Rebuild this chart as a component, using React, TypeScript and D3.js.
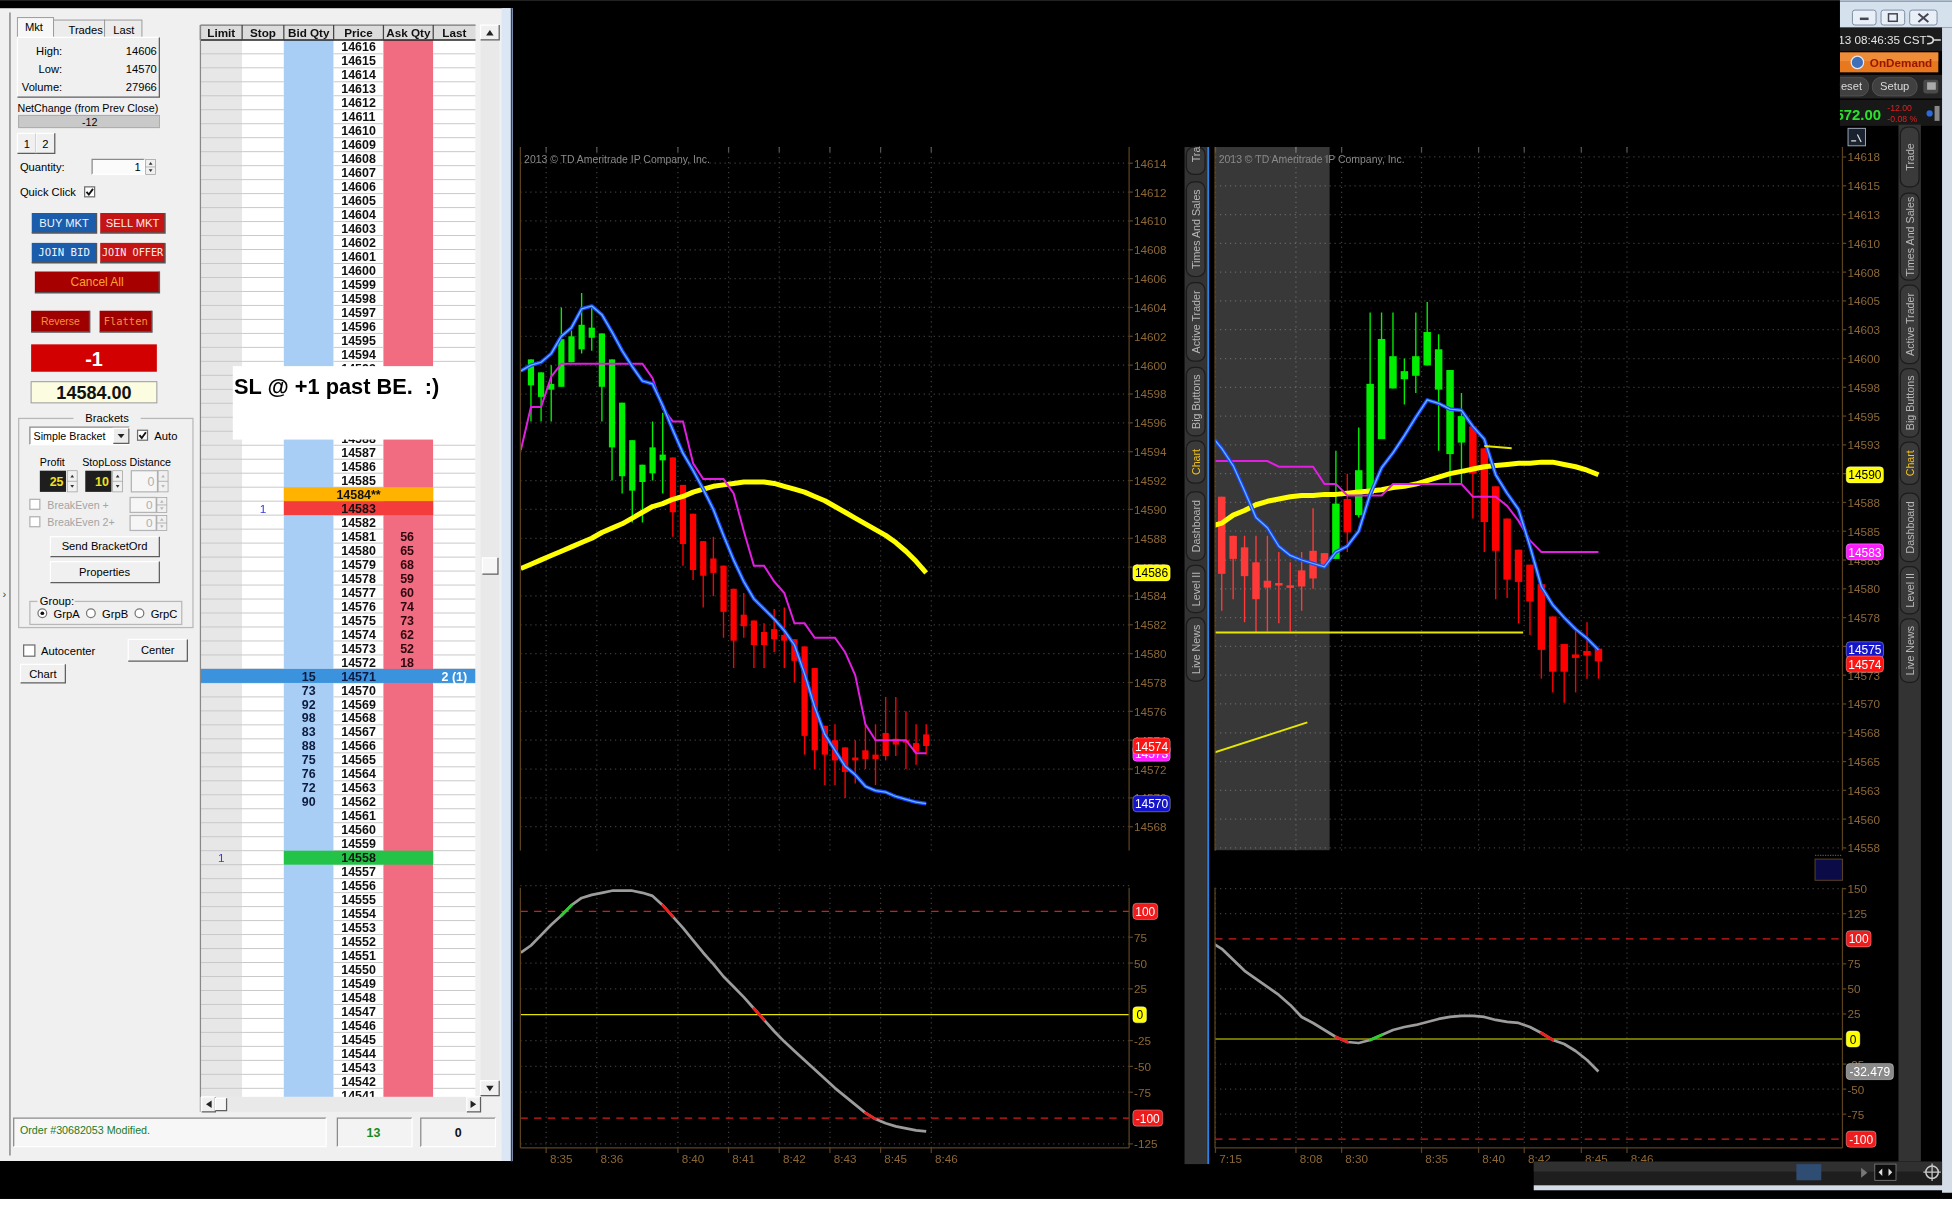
import React from 'react';
import * as d3 from 'd3';

// ---------------- Active Trader ladder ----------------
const ladderHigh = 14616;
const ladderLow = 14541;
const ladderColumns = ['Limit', 'Stop', 'Bid Qty', 'Price', 'Ask Qty', 'Last'];
const askPrices = [14581, 14580, 14579, 14578, 14577, 14576, 14575, 14574, 14573, 14572];
const askSizes = [56, 65, 68, 59, 60, 74, 73, 62, 52, 18];
const bidPrices = [14571, 14570, 14569, 14568, 14567, 14566, 14565, 14564, 14563, 14562];
const bidSizes = [15, 73, 92, 98, 83, 88, 75, 76, 72, 90];
const workingOrders = [
  { price: 14583, column: 1, qty: '1' },
  { price: 14558, column: 0, qty: '1' },
];
const markedRows = [
  { price: 14584, text: '14584**', fill: '#ffb300' },
  { price: 14583, text: '14583', fill: '#f43c3c' },
  { price: 14558, text: '14558', fill: '#22c346' },
];
const lastTradePrice = 14571;
const lastTradeText = '2 (1)';
const marketStats = [
  ['High:', '14606'],
  ['Low:', '14570'],
  ['Volume:', '27966'],
];

// ---------------- left chart (tick bars 1..40) ----------------
const leftOpen = [14598.6, 14597.8, 14598.3, 14598.5, 14600.2, 14601.1, 14601.9, 14598.5, 14594.3, 14592.3, 14591.3, 14591.9, 14592.5, 14593.4, 14593.6, 14591.7, 14589.7, 14587.8, 14586.6, 14586.1, 14584.5, 14582.7, 14582.3, 14581.5, 14581.7, 14581.3, 14581.0, 14580.5, 14579.0, 14575.0, 14574.0, 14573.5, 14572.8, 14573.3, 14573.0, 14574.5, 14574.1, 14574.0, 14573.8, 14574.4];
const leftHigh = [14600.4, 14599.5, 14600.0, 14604.0, 14602.4, 14605.0, 14604.0, 14602.2, 14600.4, 14597.4, 14594.8, 14593.1, 14596.1, 14596.7, 14593.6, 14591.7, 14589.7, 14587.8, 14588.1, 14586.1, 14584.5, 14584.2, 14582.3, 14582.1, 14583.1, 14583.2, 14581.0, 14580.5, 14579.0, 14575.0, 14575.1, 14573.5, 14574.0, 14575.1, 14575.1, 14577.0, 14577.0, 14576.0, 14575.1, 14575.1];
const leftLow = [14596.1, 14596.1, 14596.1, 14598.5, 14600.2, 14600.8, 14601.0, 14596.1, 14592.0, 14591.1, 14589.1, 14589.1, 14592.0, 14591.1, 14588.1, 14586.1, 14585.1, 14583.2, 14584.0, 14581.1, 14579.0, 14581.1, 14579.0, 14579.0, 14580.1, 14579.0, 14578.0, 14573.0, 14572.0, 14570.9, 14570.9, 14570.0, 14571.0, 14572.0, 14570.9, 14572.6, 14572.9, 14572.0, 14572.3, 14573.0];
const leftClose = [14600.4, 14599.5, 14598.7, 14601.8, 14602.0, 14602.8, 14602.6, 14602.2, 14600.4, 14597.4, 14594.8, 14593.1, 14594.3, 14593.8, 14589.8, 14587.6, 14585.8, 14585.4, 14585.6, 14582.9, 14580.9, 14581.9, 14580.6, 14580.6, 14581.0, 14580.9, 14579.5, 14574.3, 14573.3, 14573.0, 14572.6, 14571.8, 14572.6, 14572.7, 14572.7, 14572.9, 14573.7, 14573.9, 14573.2, 14573.6];
// study values for bars 0..40
const leftYellow = [14585.9, 14586.2, 14586.5, 14586.8, 14587.1, 14587.4, 14587.7, 14588.0, 14588.4, 14588.7, 14589.0, 14589.4, 14589.8, 14590.2, 14590.4, 14590.7, 14590.9, 14591.2, 14591.4, 14591.6, 14591.7, 14591.8, 14591.9, 14591.9, 14591.9, 14591.8, 14591.6, 14591.4, 14591.2, 14590.9, 14590.6, 14590.2, 14589.8, 14589.4, 14589.0, 14588.6, 14588.2, 14587.7, 14587.1, 14586.4, 14585.6];
const leftBlue = [14599.6, 14600.0, 14600.2, 14600.8, 14602.0, 14602.6, 14603.9, 14604.1, 14603.5, 14602.3, 14601.0, 14599.9, 14598.9, 14598.7, 14597.2, 14595.5, 14593.9, 14592.7, 14591.4, 14590.0, 14588.2, 14586.5, 14585.0, 14583.8, 14583.1, 14582.4, 14581.6, 14580.6, 14578.6, 14576.3, 14574.4, 14573.3, 14572.2, 14571.6, 14570.8, 14570.5, 14570.4, 14570.1, 14569.9, 14569.7, 14569.6];
const leftMagenta = [14594.1, 14597.1, 14597.1, 14599.2, 14600.1, 14600.1, 14600.1, 14600.1, 14600.1, 14600.1, 14600.1, 14600.1, 14600.1, 14599.1, 14597.0, 14596.1, 14596.1, 14593.2, 14592.1, 14592.1, 14592.1, 14591.1, 14588.5, 14586.1, 14586.1, 14585.0, 14584.2, 14582.1, 14582.1, 14581.1, 14581.1, 14581.1, 14580.1, 14578.5, 14575.1, 14574.0, 14574.0, 14574.0, 14574.0, 14573.1, 14573.1];
const leftOsc = [60, 67, 77, 87, 96, 106, 113, 116, 118, 120, 120, 120, 118, 115, 106, 95, 84, 72, 60, 49, 37, 27, 17, 6, -5, -16, -26, -35, -44, -53, -62, -71, -79, -87, -95, -101, -105, -108, -110, -112, -113];
const leftTimeBars = [2.5, 7.5, 15.5, 20.5, 25.5, 30.5, 35.5, 40.5];
const leftTimeLabels = ['8:35', '8:36', '8:40', '8:41', '8:42', '8:43', '8:45', '8:46'];

// ---------------- right chart (bars 1..34) ----------------
const rightOpen = [14588.0, 14584.6, 14583.6, 14582.3, 14580.7, 14580.5, 14580.3, 14581.6, 14583.3, 14583.1, 14582.6, 14587.8, 14586.4, 14588.2, 14593.0, 14597.4, 14598.2, 14598.5, 14599.4, 14597.3, 14591.7, 14592.7, 14594.1, 14592.2, 14588.9, 14586.1, 14583.4, 14582.1, 14580.4, 14577.6, 14575.2, 14574.3, 14574.6, 14574.8];
const rightHigh = [14588.0, 14584.6, 14584.6, 14584.6, 14584.6, 14583.2, 14582.3, 14583.2, 14587.0, 14583.1, 14592.0, 14590.0, 14594.0, 14604.0, 14604.0, 14604.0, 14600.0, 14604.0, 14604.9, 14602.1, 14599.0, 14597.0, 14594.1, 14592.2, 14588.9, 14586.1, 14583.4, 14582.1, 14580.4, 14577.6, 14575.2, 14576.7, 14577.1, 14574.8];
const rightLow = [14578.1, 14579.1, 14577.1, 14576.2, 14576.3, 14577.0, 14576.3, 14578.1, 14580.0, 14581.8, 14582.6, 14583.2, 14586.2, 14588.2, 14593.0, 14597.4, 14596.0, 14597.0, 14599.4, 14592.0, 14589.1, 14589.1, 14586.1, 14583.2, 14579.1, 14579.2, 14577.0, 14576.0, 14572.2, 14571.0, 14570.1, 14571.0, 14572.2, 14572.2];
const rightClose = [14581.3, 14582.6, 14581.1, 14579.1, 14580.1, 14580.3, 14580.1, 14580.2, 14580.9, 14582.0, 14587.4, 14584.9, 14590.3, 14597.8, 14601.7, 14600.2, 14598.9, 14600.2, 14602.3, 14600.8, 14599.0, 14595.0, 14590.0, 14585.8, 14583.3, 14580.8, 14580.6, 14578.9, 14574.7, 14572.8, 14572.8, 14574.0, 14574.2, 14573.7];
// study values for bars 0..34
const rightYellow = [14585.4, 14585.7, 14586.4, 14586.8, 14587.3, 14587.6, 14587.8, 14588.0, 14588.1, 14588.1, 14588.2, 14588.2, 14588.3, 14588.4, 14588.5, 14588.6, 14588.8, 14588.9, 14589.1, 14589.4, 14589.7, 14590.0, 14590.2, 14590.4, 14590.6, 14590.7, 14590.8, 14590.9, 14590.9, 14591.0, 14591.0, 14590.8, 14590.6, 14590.3, 14589.9];
const rightBlue = [14593.4, 14592.2, 14590.7, 14588.5, 14586.2, 14585.3, 14583.7, 14582.9, 14582.5, 14582.2, 14581.9, 14583.2, 14583.7, 14585.0, 14588.2, 14590.5, 14591.8, 14593.3, 14594.9, 14596.4, 14596.1, 14595.6, 14595.5, 14594.1, 14593.0, 14589.9, 14588.3, 14586.9, 14583.7, 14580.2, 14578.6, 14577.5, 14576.5, 14575.7, 14574.7];
const rightMagenta = [14591.1, 14591.1, 14591.1, 14591.1, 14591.1, 14591.1, 14590.6, 14590.6, 14590.6, 14590.6, 14589.1, 14589.1, 14588.1, 14588.1, 14588.1, 14588.1, 14589.1, 14589.1, 14589.1, 14589.1, 14589.1, 14589.1, 14589.1, 14588.0, 14588.0, 14588.0, 14587.2, 14585.9, 14584.2, 14583.2, 14583.2, 14583.2, 14583.2, 14583.2, 14583.2];
const rightOsc = [97, 90, 79, 68, 60, 52, 44, 34, 22, 16, 9, 2, -3, -4, -1, 4, 9, 12, 14, 17, 20, 22, 23, 23, 22, 19, 17, 16, 12, 6, -1, -5, -12, -21, -32.479];
const rightTimeBars = [0.45, 7.5, 11.5, 18.5, 23.5, 27.5, 32.5, 36.5];
const rightTimeLabels = ['7:15', '8:08', '8:30', '8:35', '8:40', '8:42', '8:45', '8:46'];
const rightShadeEnd = 10.45;
// trend lines drawn on the right chart: [bar1, price1, bar2, price2]
const rightDrawings = [
  [0.4, 14576.2, 27.4, 14576.2],
  [24, 14592.4, 26.4, 14592.2],
  [0.4, 14565.8, 8.5, 14568.4],
];

const tabNames = ['Times And Sales', 'Active Trader', 'Big Buttons', 'Chart', 'Dashboard', 'Level II', 'Live News'];

const FONT = "'Liberation Sans', Arial, sans-serif";
const AXIS_TXT = '#8c6836';
const AXIS_LINE = '#5c4320';
const GRID = '#3c3c3c';
const UP = '#00ee00';
const DOWN = '#ff0000';

type Pane = { x0: number; x1: number; y0: number; y1: number };

const Bevel = ({ x, y, w, h, fill, sunken = false }: any) => (
  <g>
    <rect x={x} y={y} width={w} height={h} fill={fill} />
    <path d={`M${x},${y + h} V${y} H${x + w}`} fill="none" stroke={sunken ? '#8a8a8a' : '#ffffff'} />
    <path d={`M${x},${y + h} H${x + w} V${y}`} fill="none" stroke={sunken ? '#ffffff' : '#5e5e5e'} />
  </g>
);

const Check = ({ x, y, s = 8, checked = false, disabled = false }: any) => (
  <g>
    <rect x={x} y={y} width={s} height={s} fill="#fff" stroke={disabled ? '#b0b0b0' : '#6e6e6e'} />
    {checked && (
      <path d={`M${x + 1.5},${y + s * 0.5} L${x + s * 0.42},${y + s - 1.8} L${x + s - 1.3},${y + 1.6}`} fill="none" stroke="#111" strokeWidth={1.5} />
    )}
  </g>
);

const Spinner = ({ x, y, h, disabled = false }: any) => {
  const c = disabled ? '#b8b8b8' : '#333';
  return (
    <g>
      <rect x={x} y={y} width={8} height={h} fill="#f0f0f0" stroke="#a0a0a0" strokeWidth={0.6} />
      <line x1={x} x2={x + 8} y1={y + h / 2} y2={y + h / 2} stroke="#a0a0a0" strokeWidth={0.6} />
      <path d={`M${x + 2.5},${y + h / 4 + 1.2} L${x + 4},${y + h / 4 - 1} L${x + 5.5},${y + h / 4 + 1.2}Z`} fill={c} />
      <path d={`M${x + 2.5},${y + (3 * h) / 4 - 1.2} L${x + 4},${y + (3 * h) / 4 + 1} L${x + 5.5},${y + (3 * h) / 4 - 1.2}Z`} fill={c} />
    </g>
  );
};

const ColorBtn = ({ x, y, w, h, fill, text, color, size = 9, mono = false }: any) => (
  <g>
    <rect x={x} y={y} width={w} height={h} fill={fill} />
    <path d={`M${x},${y + h} H${x + w} V${y}`} fill="none" stroke="#555" strokeWidth={1.2} />
    <text x={x + w / 2} y={y + h / 2} textAnchor="middle" dominantBaseline="central" fontSize={size} fill={color}
      fontFamily={mono ? "'DejaVu Sans Mono', monospace" : FONT}>{text}</text>
  </g>
);

const TabStrip = ({ x, top, bottom, first, firstRange, ranges }: any) => {
  const names = [first, ...tabNames];
  const spans = [firstRange, ...ranges];
  return (
    <g>
      <rect x={x} y={top} width={18} height={bottom - top} fill="#333333" />
      {names.map((n: string, i: number) => {
        const [a, b] = spans[i];
        const y0 = Math.max(a, top);
        return (
          <g key={n}>
            <rect x={x + 1.5} y={y0} width={15} height={b - y0} rx={6} fill="#3a3a3a" stroke="#1c1c1c" strokeWidth={1} />
            <text transform={`translate(${x + 9},${(a + b) / 2}) rotate(-90)`} textAnchor="middle" dominantBaseline="central"
              fontSize={8.6} fill={n === 'Chart' ? '#f2c21a' : '#b8b8b8'}>{n}</text>
          </g>
        );
      })}
    </g>
  );
};

function valueBox(key: string, x: number, y: number, text: string, fill: string, color: string, w = 30) {
  return (
    <g key={key}>
      <rect x={x} y={y - 6.5} width={w} height={13} rx={3} fill={fill} stroke="rgba(255,255,255,0.45)" strokeWidth={0.6} />
      <text x={x + w / 2} y={y + 0.5} textAnchor="middle" dominantBaseline="central" fontSize={9.6} fill={color}>{text}</text>
    </g>
  );
}

function Chart(props: any) {
  const { id, pane, oscPane, x, y, o, open, high, low, close, yellow, blue, magenta, osc, priceTicks, priceLabel,
    oscTicks, timeBars, timeLabels, bodyW, shadeEnd, drawings, oscValue, spread } = props;
  const P: Pane = pane;
  const Q: Pane = oscPane;
  const line = d3.line<number>().x((_, i) => x(i)).y((v) => y(v));
  const oline = d3.line<number>().x((_, i) => x(i)).y((v) => o(v));
  const levels = [100, 0, -100];
  const segs: any[] = [];
  for (let i = 1; i < osc.length; i++) {
    const a = osc[i - 1];
    const b = osc[i];
    let c = '';
    levels.forEach((l) => {
      if (a < l && b >= l) c = '#2ad02a';
      if (a > l && b <= l) c = '#ee2020';
    });
    if (c) segs.push(<line key={i} x1={x(i - 1)} y1={o(a)} x2={x(i)} y2={o(b)} stroke={c} strokeWidth={2.2} strokeLinecap="round" />);
  }
  const lx = P.x1 + 3;
  // last-value markers on the price axis
  const marks = [
    { k: 'vy', v: yellow[yellow.length - 1], fill: '#ffff00', color: '#000' },
    { k: 'vm', v: magenta[magenta.length - 1], fill: '#ff1aff', color: '#fff' },
    { k: 'vb', v: blue[blue.length - 1], fill: '#1414c8', color: '#fff' },
    { k: 'vc', v: close[close.length - 1], fill: '#ff1414', color: '#fff' },
  ].map((m) => ({ ...m, y: y(m.v) }));
  if (spread) {
    const sorted = [...marks].sort((a, b) => a.y - b.y);
    for (let i = 1; i < sorted.length; i++) {
      if (sorted[i].y - sorted[i - 1].y < 11.5) sorted[i].y = sorted[i - 1].y + 11.5;
    }
  }
  return (
    <g fontFamily={FONT}>
      <defs>
        <clipPath id={`${id}-p`}><rect x={P.x0} y={P.y0} width={P.x1 - P.x0} height={P.y1 - P.y0} /></clipPath>
        <clipPath id={`${id}-o`}><rect x={Q.x0} y={Q.y0} width={Q.x1 - Q.x0} height={Q.y1 - Q.y0} /></clipPath>
      </defs>
      {/* price pane grid */}
      {priceTicks.map((t: number) => (
        <line key={`g${t}`} x1={P.x0} x2={P.x1} y1={y(t)} y2={y(t)} stroke={GRID} strokeDasharray="1,3" />
      ))}
      {timeBars.map((b: number) => (
        <g key={`v${b}`}>
          <line x1={x(b)} x2={x(b)} y1={P.y0} y2={P.y1} stroke={GRID} strokeDasharray="1,3" />
          <line x1={x(b)} x2={x(b)} y1={Q.y0} y2={Q.y1} stroke={GRID} strokeDasharray="1,3" />
          <line x1={x(b)} x2={x(b)} y1={P.y0} y2={P.y0 + 4} stroke="#555" />
          <line x1={x(b)} x2={x(b)} y1={Q.y1} y2={Q.y1 + 4} stroke={AXIS_LINE} />
        </g>
      ))}
      <g clipPath={`url(#${id}-p)`}>
        {open.map((op: number, i: number) => {
          const c = close[i];
          const col = c >= op ? UP : DOWN;
          const cx = x(i + 1);
          const t = y(Math.max(op, c));
          const bt = y(Math.min(op, c));
          return (
            <g key={i}>
              <line x1={cx} x2={cx} y1={y(high[i])} y2={y(low[i])} stroke={col} strokeWidth={1.1} />
              <rect x={cx - bodyW / 2} y={t} width={bodyW} height={Math.max(2, bt - t)} fill={col} />
            </g>
          );
        })}
        {shadeEnd !== undefined && (
          <rect x={P.x0} y={P.y0} width={x(shadeEnd) - P.x0} height={P.y1 - P.y0} fill="#ffffff" opacity={0.22} />
        )}
        <path d={line(yellow) as string} fill="none" stroke="#ffff00" strokeWidth={4} strokeLinejoin="round" />
        <path d={line(magenta) as string} fill="none" stroke="#e11ee1" strokeWidth={1.6} />
        <path d={line(blue) as string} fill="none" stroke="#1648ff" strokeWidth={3} strokeLinejoin="round" />
        <path d={line(blue) as string} fill="none" stroke="#6cb6ff" strokeWidth={1} strokeLinejoin="round" />
        {drawings && drawings.map((d: number[], i: number) => (
          <line key={`d${i}`} x1={x(d[0])} y1={y(d[1])} x2={x(d[2])} y2={y(d[3])} stroke="#e6e600" strokeWidth={1.6} />
        ))}
      </g>
      <text x={P.x0 + 3} y={P.y0 + 13} fontSize={8.4} fill="#8a8a8a">2013 © TD Ameritrade IP Company, Inc.</text>
      {/* price axis */}
      <line x1={P.x0} x2={P.x0} y1={P.y0} y2={P.y1} stroke={AXIS_LINE} />
      <line x1={P.x1} x2={P.x1} y1={P.y0} y2={P.y1} stroke={AXIS_LINE} />
      {priceTicks.map((t: number) => (
        <g key={`t${t}`}>
          <line x1={P.x1} x2={P.x1 + 3} y1={y(t)} y2={y(t)} stroke={AXIS_LINE} />
          <text x={lx + 1} y={y(t)} dominantBaseline="central" fontSize={9.4} fill={AXIS_TXT}>{priceLabel(t)}</text>
        </g>
      ))}
      {marks.map((m) => valueBox(m.k, lx, m.y, `${Math.round(m.v)}`, m.fill, m.color))}
      {/* oscillator pane */}
      {oscTicks.filter((t: number) => t % 100 !== 0).map((t: number) => (
        <line key={`og${t}`} x1={Q.x0} x2={Q.x1} y1={o(t)} y2={o(t)} stroke={GRID} strokeDasharray="1,3" />
      ))}
      <line x1={Q.x0} x2={Q.x1} y1={o(100)} y2={o(100)} stroke="#d41c1c" strokeDasharray="6,5" />
      <line x1={Q.x0} x2={Q.x1} y1={o(-100)} y2={o(-100)} stroke="#d41c1c" strokeDasharray="6,5" />
      <line x1={Q.x0} x2={Q.x1} y1={o(0)} y2={o(0)} stroke="#e4e400" strokeWidth={1} />
      <g clipPath={`url(#${id}-o)`}>
        <path d={oline(osc) as string} fill="none" stroke="#9c9c9c" strokeWidth={2.2} strokeLinejoin="round" />
        {segs}
      </g>
      <line x1={Q.x0} x2={Q.x0} y1={Q.y0} y2={Q.y1} stroke={AXIS_LINE} />
      <line x1={Q.x1} x2={Q.x1} y1={Q.y0} y2={Q.y1} stroke={AXIS_LINE} />
      <line x1={Q.x0} x2={Q.x1} y1={Q.y1} y2={Q.y1} stroke={AXIS_LINE} />
      {oscTicks.filter((t: number) => t % 100 !== 0 && o(t) > Q.y0).map((t: number) => (
        <g key={`ot${t}`}>
          <line x1={Q.x1} x2={Q.x1 + 3} y1={o(t)} y2={o(t)} stroke={AXIS_LINE} />
          <text x={lx + 1} y={o(t)} dominantBaseline="central" fontSize={9.4} fill={AXIS_TXT}>{t}</text>
        </g>
      ))}
      {valueBox('o100', lx, o(100), '100', '#ee1c1c', '#fff', 20)}
      {valueBox('o0', lx, o(0), '0', '#ffff00', '#000', 11)}
      {valueBox('om100', lx, o(-100), '-100', '#ee1c1c', '#fff', 24)}
      {oscValue && valueBox('ov', lx, o(osc[osc.length - 1]), `${osc[osc.length - 1]}`, '#8a8a8a', '#fff', 38)}
      {/* time axis */}
      {timeBars.map((b: number, i: number) => (
        <text key={`tl${i}`} x={x(b) + 3} y={934} fontSize={9.4} fill={AXIS_TXT}>{timeLabels[i]}</text>
      ))}
    </g>
  );
}

export default function App() {
  const W = 1568;
  const H = 983;

  // ladder geometry
  const colX = [161, 194.5, 228, 268, 308, 348, 382];
  const colFill = ['#e7e7e7', '#ffffff', '#a8cef6', '#ffffff', '#f16c80', '#ffffff'];
  const rowH = 11.23;
  const yRow = d3.scaleLinear().domain([ladderHigh, ladderLow]).range([37.5, 37.5 + 75 * rowH]);
  const ladderPrices = d3.range(ladderHigh, ladderLow - 1, -1);
  const note = { x: 187, y: 294, w: 195, h: 59 };
  const hiddenByNote = (p: number) => yRow(p) - rowH / 2 >= note.y && yRow(p) + rowH / 2 <= note.y + note.h;

  // charts
  const xL = d3.scaleLinear().domain([1, 40]).range([426.5, 744]);
  const yL = d3.scaleLinear().domain([14614, 14568]).range([131, 664]);
  const oL = d3.scaleLinear().domain([100, -100]).range([732, 898]);
  const xR = d3.scaleLinear().domain([1, 34]).range([981.4, 1284]);
  const yR = d3.scaleLinear().domain([14617.5, 14557.5]).range([126, 681]);
  const oR = d3.scaleLinear().domain([100, -100]).range([754, 915]);

  const leftTicks = d3.range(14614, 14567, -2);
  const rightTicks = d3.range(14617.5, 14557, -2.5);
  const leftOscTicks = d3.range(125, -126, -25);
  const rightOscTicks = d3.range(150, -101, -25);

  return (
    <div style={{ position: 'fixed', left: 0, top: 0 }}>
      <svg width={1952} height={1224} viewBox={`0 0 ${W} ${H}`} style={{ display: 'block' }} fontFamily={FONT}>
        <rect x={0} y={0} width={W} height={H} fill="#ffffff" />
        <rect x={0} y={0} width={W} height={963} fill="#000000" />

        {/* ================= Active Trader window ================= */}
        <rect x={0} y={6.5} width={412} height={926} fill="#f0f0f0" />
        <line x1={8} x2={8} y1={10} y2={928} stroke="#8a8a8a" strokeWidth={1.2} />
        <text x={2} y={480} fontSize={9} fill="#444">›</text>
        <rect x={403} y={6.5} width={7} height={926} fill="#dbe7f4" />
        <line x1={411} x2={411} y1={6.5} y2={933} stroke="#23457c" strokeWidth={1.4} />

        {/* tabs + stats */}
        <rect x={14} y={14} width={29} height={17} fill="#f7f7f7" stroke="#9c9c9c" strokeWidth={0.8} />
        <rect x={43} y={16} width={41} height={15} fill="#ececec" stroke="#9c9c9c" strokeWidth={0.8} />
        <rect x={84} y={16} width={30} height={15} fill="#ececec" stroke="#9c9c9c" strokeWidth={0.8} />
        <text x={20} y={25} fontSize={9}>Mkt</text>
        <text x={55} y={27} fontSize={9}>Trades</text>
        <text x={91} y={27} fontSize={9}>Last</text>
        <Bevel x={14} y={30} w={114} h={48} fill="#f0f0f0" />
        {marketStats.map((s, i) => (
          <g key={s[0]} fontSize={9}>
            <text x={50} y={44 + i * 14.5} textAnchor="end">{s[0]}</text>
            <text x={126} y={44 + i * 14.5} textAnchor="end">{s[1]}</text>
          </g>
        ))}
        <text x={14} y={90} fontSize={8.6}>NetChange (from Prev Close)</text>
        <rect x={15} y={92.5} width={113} height={10} fill="#c9c9c9" stroke="#9a9a9a" strokeWidth={0.6} />
        <text x={72} y={101} textAnchor="middle" fontSize={8.6}>-12</text>
        <Bevel x={14} y={107} w={15} h={16} fill="#f0f0f0" />
        <Bevel x={29} y={107} w={15} h={16} fill="#f0f0f0" />
        <text x={21.5} y={118.5} textAnchor="middle" fontSize={9}>1</text>
        <text x={36.5} y={118.5} textAnchor="middle" fontSize={9}>2</text>
        <text x={16} y={137.5} fontSize={9}>Quantity:</text>
        <Bevel x={74} y={128} w={42} h={12} fill="#fbfbfb" sunken />
        <text x={113} y={137.5} textAnchor="end" fontSize={9}>1</text>
        <Spinner x={117} y={128} h={12} />
        <text x={16} y={157} fontSize={9}>Quick Click</text>
        <Check x={68} y={150} checked />

        <ColorBtn x={25.5} y={171} w={52} h={16} fill="#1b5cab" text="BUY MKT" color="#eef4ff" />
        <ColorBtn x={80.5} y={171} w={52} h={16} fill="#c41414" text="SELL MKT" color="#ffeaea" />
        <ColorBtn x={25.5} y={195} w={52} h={16} fill="#1b5cab" text="JOIN BID" color="#eef4ff" size={8.6} mono />
        <ColorBtn x={80.5} y={195} w={52} h={16} fill="#c41414" text="JOIN OFFER" color="#ffeaea" size={8.2} mono />
        <ColorBtn x={28} y={218} w={100} h={17} fill="#a60000" text="Cancel All" color="#ffa030" size={9.6} />
        <ColorBtn x={25} y={249.5} w={47} h={17} fill="#9e0000" text="Reverse" color="#ff8d3a" size={8.4} />
        <ColorBtn x={80} y={249.5} w={42} h={17} fill="#9e0000" text="Flatten" color="#ff8d3a" size={8.4} mono />
        <rect x={25} y={276.5} width={101} height={22} fill="#d20000" />
        <text x={75.5} y={288} textAnchor="middle" dominantBaseline="central" fontSize={16} fontWeight="bold" fill="#fff">-1</text>
        <rect x={25} y={306.5} width={101} height={17} fill="#fcfce0" stroke="#9a9a9a" strokeWidth={0.8} />
        <text x={75.5} y={315.5} textAnchor="middle" dominantBaseline="central" fontSize={14.5} fontWeight="bold" fill="#111">14584.00</text>

        {/* brackets group */}
        <rect x={15} y={336} width={140} height={168} fill="none" stroke="#b8b8b8" />
        <rect x={59} y={330} width={54} height={10} fill="#f0f0f0" />
        <text x={86} y={338.5} textAnchor="middle" fontSize={9}>Brackets</text>
        <Bevel x={24} y={343} w={80} h={14} fill="#ffffff" sunken />
        <text x={27} y={353.5} fontSize={8.6}>Simple Bracket</text>
        <Bevel x={91} y={344} w={12.5} h={12} fill="#ececec" />
        <path d="M94.5,348.5 L97.3,352 L100,348.5Z" fill="#222" />
        <Check x={110.5} y={345.5} checked />
        <text x={124} y={353.5} fontSize={9}>Auto</text>
        <text x={32} y={374} fontSize={8.6}>Profit</text>
        <text x={66} y={374} fontSize={8.6}>StopLoss</text>
        <text x={104} y={374} fontSize={8.6}>Distance</text>
        <rect x={32} y={378} width={21} height={17} fill="#1e1e1e" />
        <text x={51} y={390.5} textAnchor="end" fontSize={10} fontWeight="bold" fill="#f0e020">25</text>
        <Spinner x={54} y={378} h={17} />
        <rect x={68.5} y={378} width={21} height={17} fill="#1e1e1e" />
        <text x={87.5} y={390.5} textAnchor="end" fontSize={10} fontWeight="bold" fill="#f0e020">10</text>
        <Spinner x={90.5} y={378} h={17} />
        <rect x={105.5} y={378} width={21} height={17} fill="#f6f6f6" stroke="#b4b4b4" />
        <text x={124} y={390.5} textAnchor="end" fontSize={10} fill="#b0b0b0">0</text>
        <Spinner x={127} y={378} h={17} disabled />
        <Check x={24} y={401} disabled />
        <text x={38} y={408.5} fontSize={8.6} fill="#a4a4a4">BreakEven +</text>
        <rect x={104.5} y={399.5} width={21} height={12} fill="#f6f6f6" stroke="#b4b4b4" />
        <text x={122.5} y={409} textAnchor="end" fontSize={9.5} fill="#b0b0b0">0</text>
        <Spinner x={126} y={399.5} h={12} disabled />
        <Check x={24} y={415} disabled />
        <text x={38} y={422.5} fontSize={8.6} fill="#a4a4a4">BreakEven 2+</text>
        <rect x={104.5} y={414} width={21} height={12} fill="#f6f6f6" stroke="#b4b4b4" />
        <text x={122.5} y={423.5} textAnchor="end" fontSize={9.5} fill="#b0b0b0">0</text>
        <Spinner x={126} y={414} h={12} disabled />
        <Bevel x={40.5} y={431} w={87.5} h={16} fill="#f0f0f0" />
        <text x={84} y={442} textAnchor="middle" fontSize={9}>Send BracketOrd</text>
        <Bevel x={40.5} y={451} w={87.5} h={17} fill="#f0f0f0" />
        <text x={84} y={462.5} textAnchor="middle" fontSize={9}>Properties</text>
        <rect x={24} y={483} width={122} height={18.5} fill="none" stroke="#b8b8b8" />
        <rect x={30} y={478} width={30} height={9} fill="#f0f0f0" />
        <text x={32} y={486} fontSize={9}>Group:</text>
        {['GrpA', 'GrpB', 'GrpC'].map((g, i) => (
          <g key={g}>
            <circle cx={34 + i * 39} cy={492.5} r={3.5} fill="#fff" stroke="#777" />
            {i === 0 && <circle cx={34} cy={492.5} r={1.5} fill="#111" />}
            <text x={43 + i * 39} y={496} fontSize={9}>{g}</text>
          </g>
        ))}
        <Check x={19} y={518} s={9} />
        <text x={33} y={526} fontSize={9}>Autocenter</text>
        <Bevel x={103} y={513.5} w={47.5} h={17.5} fill="#f0f0f0" />
        <text x={126.7} y={525} textAnchor="middle" fontSize={9}>Center</text>
        <Bevel x={16.5} y={533.5} w={36} h={15} fill="#f0f0f0" />
        <text x={34.5} y={544.5} textAnchor="middle" fontSize={9}>Chart</text>

        {/* status bar */}
        <Bevel x={11} y={898} w={251} h={23} fill="#f7f7f7" sunken />
        <text x={16} y={911} fontSize={8.6} fill="#1c7a1c">Order #30682053 Modified.</text>
        <Bevel x={271} y={898} w={60} h={23} fill="#f3f3f3" sunken />
        <text x={300} y={913} textAnchor="middle" fontSize={10} fontWeight="bold" fill="#1a8a1a">13</text>
        <Bevel x={338} y={898} w={60} h={23} fill="#f3f3f3" sunken />
        <text x={368} y={913} textAnchor="middle" fontSize={10} fontWeight="bold" fill="#111">0</text>

        {/* ladder */}
        <defs>
          <clipPath id="ladder"><rect x={161} y={32} width={221} height={849} /></clipPath>
        </defs>
        <g clipPath="url(#ladder)">
          {colFill.map((f, i) => (
            <rect key={i} x={colX[i]} y={32} width={colX[i + 1] - colX[i]} height={849} fill={f} />
          ))}
          {ladderPrices.map((p) => (
            <g key={p}>
              {[0, 1, 3, 5].map((c) => (
                <line key={c} x1={colX[c]} x2={colX[c + 1]} y1={yRow(p) + rowH / 2} y2={yRow(p) + rowH / 2} stroke="#c9c9c9" strokeWidth={0.8} />
              ))}
            </g>
          ))}
          <rect x={colX[0]} y={yRow(lastTradePrice) - rowH / 2} width={colX[6] - colX[0]} height={rowH} fill="#3a93dc" />
          {markedRows.map((r) => (
            <rect key={r.price} x={colX[2]} y={yRow(r.price) - rowH / 2} width={colX[5] - colX[2]} height={rowH} fill={r.fill} />
          ))}
          <g fontSize={10} fontWeight="bold" textAnchor="middle" dominantBaseline="central">
            {ladderPrices.filter((p) => !hiddenByNote(p)).map((p) => {
              const m = markedRows.find((r) => r.price === p);
              return (
                <text key={p} x={288} y={yRow(p) + 0.5} fill={p === lastTradePrice ? '#0b1a44' : '#111'}>{m ? m.text : p}</text>
              );
            })}
            {askPrices.map((p, i) => (
              <text key={`a${p}`} x={327} y={yRow(p) + 0.5} fill="#2a0a10">{askSizes[i]}</text>
            ))}
            {bidPrices.map((p, i) => (
              <text key={`b${p}`} x={248} y={yRow(p) + 0.5} fill="#0d1a3c">{bidSizes[i]}</text>
            ))}
            <text x={365} y={yRow(lastTradePrice) + 0.5} fill="#fff">{lastTradeText}</text>
          </g>
          {workingOrders.map((w) => (
            <text key={w.price} x={(colX[w.column] + colX[w.column + 1]) / 2} y={yRow(w.price) + 0.5} textAnchor="middle"
              dominantBaseline="central" fontSize={9.5} fill="#3a3ae0">{w.qty}</text>
          ))}
        </g>
        <rect x={161} y={20} width={221} height={12} fill="#dcdcdc" />
        <line x1={161} x2={382} y1={20} y2={20} stroke="#777" />
        <line x1={161} x2={382} y1={32} y2={32} stroke="#222" strokeWidth={1.2} />
        {ladderColumns.map((c, i) => (
          <g key={c}>
            <line x1={colX[i]} x2={colX[i]} y1={20} y2={32} stroke="#444" />
            <text x={(colX[i] + colX[i + 1]) / 2} y={29.5} textAnchor="middle" fontSize={9.4} fontWeight="bold" fill="#111">{c}</text>
          </g>
        ))}
        <line x1={161} x2={161} y1={20} y2={893} stroke="#888" />
        {/* scrollbars */}
        <rect x={386} y={20} width={15} height={861} fill="#e9e9e9" />
        <Bevel x={386} y={20} w={15} h={12} fill="#f0f0f0" />
        <path d="M390.5,28.5 L393.5,24 L396.5,28.5Z" fill="#222" />
        <Bevel x={386} y={868} w={15} h={12} fill="#f0f0f0" />
        <path d="M390.5,872 L393.5,876.5 L396.5,872Z" fill="#222" />
        <Bevel x={387.5} y={448} w={12.5} h={13} fill="#f6f6f6" />
        <rect x={161} y={881} width={225} height={12} fill="#e9e9e9" />
        <Bevel x={162} y={881} w={11} h={12} fill="#f0f0f0" />
        <path d="M170,884 L165.5,887 L170,890Z" fill="#222" />
        <Bevel x={375} y={881} w={11} h={12} fill="#f0f0f0" />
        <path d="M378,884 L382.5,887 L378,890Z" fill="#222" />
        <Bevel x={173} y={882} w={9} h={10} fill="#f6f6f6" />

        {/* annotation */}
        <rect x={note.x} y={note.y} width={note.w} height={note.h} fill="#ffffff" />
        <text x={188} y={316} fontSize={17.5} fontWeight="bold" fill="#000">SL @ +1 past BE.{'\u00a0'} :)</text>

        {/* ================= left chart ================= */}
        <Chart id="L" pane={{ x0: 418, x1: 907, y0: 118, y1: 683 }} oscPane={{ x0: 418, x1: 907, y0: 713, y1: 922 }}
          x={xL} y={yL} o={oL} open={leftOpen} high={leftHigh} low={leftLow} close={leftClose}
          yellow={leftYellow} blue={leftBlue} magenta={leftMagenta} osc={leftOsc}
          priceTicks={leftTicks} priceLabel={(t: number) => `${t}`} oscTicks={leftOscTicks}
          timeBars={leftTimeBars} timeLabels={leftTimeLabels} bodyW={5} />

        {/* ================= right chart ================= */}
        <TabStrip x={951.5} top={118} bottom={935} first="Tra" firstRange={[108, 140]}
          ranges={[[146, 222], [227, 290], [295, 350], [354, 388], [395, 450], [454, 492], [496, 547]]} />
        <line x1={970.5} x2={970.5} y1={118} y2={935} stroke="#2a82e4" strokeWidth={1.6} />
        <Chart id="R" pane={{ x0: 976, x1: 1480, y0: 118, y1: 683 }} oscPane={{ x0: 976, x1: 1480, y0: 713, y1: 922 }}
          x={xR} y={yR} o={oR} open={rightOpen} high={rightHigh} low={rightLow} close={rightClose}
          yellow={rightYellow} blue={rightBlue} magenta={rightMagenta} osc={rightOsc}
          priceTicks={rightTicks} priceLabel={(t: number) => `${Math.round(t)}`} oscTicks={rightOscTicks}
          timeBars={rightTimeBars} timeLabels={rightTimeLabels} bodyW={6} shadeEnd={rightShadeEnd}
          drawings={rightDrawings} oscValue spread />
        <rect x={1458} y={690} width={22} height={17} fill="#0b0b48" stroke={AXIS_LINE} strokeWidth={0.8} />
        <line x1={1458} x2={1480} y1={687} y2={687} stroke="#555" strokeDasharray="1,1" />

        {/* ================= main window chrome (right) ================= */}
        <rect x={1478} y={0} width={90} height={22} fill="#d6e1ee" />
        <line x1={1478} x2={1568} y1={1} y2={1} stroke="#8da2bb" />
        {[[1488, 19], [1511, 19], [1534, 22]].map(([bx, bw], i) => (
          <g key={i}>
            <rect x={bx} y={8} width={bw} height={12} rx={2} fill="#e9eff7" stroke="#7d8da3" strokeWidth={0.8} />
            {i === 0 && <rect x={bx + 6} y={14} width={7} height={2} fill="#445" />}
            {i === 1 && <rect x={bx + 6} y={11} width={7} height={6} fill="none" stroke="#445" strokeWidth={1.2} />}
            {i === 2 && <path d={`M${bx + 7},${11} L${bx + 15},${17.5} M${bx + 15},${11} L${bx + 7},${17.5}`} stroke="#445" strokeWidth={1.6} />}
          </g>
        ))}
        <rect x={1560} y={22} width={8} height={936} fill="#d3dce7" />
        <defs>
          <clipPath id="chrome"><rect x={1478} y={22} width={82} height={90} /></clipPath>
        </defs>
        <g clipPath="url(#chrome)">
          <rect x={1478} y={22} width={82} height={19} fill="#1c1c1c" />
          <text x={1474} y={35} fontSize={9.4} fill="#e4e4e4">/13 08:46:35 CST</text>
          <path d="M1548,29 q5,0 5,3 q0,3 -5,3 M1553,32 h6" fill="none" stroke="#ddd" strokeWidth={1.3} />
          <rect x={1478} y={42} width={79} height={16} fill="#e8781e" />
          <rect x={1478} y={42} width={79} height={7} fill="#f29a4a" opacity={0.6} />
          <circle cx={1492} cy={50} r={5} fill="#3e6fb8" stroke="#e8e8e8" strokeWidth={1} />
          <text x={1502} y={54} fontSize={9.4} fontWeight="bold" fill="#9a1400">OnDemand</text>
          <rect x={1478} y={60} width={82} height={19} fill="#262626" />
          <rect x={1466} y={62} width={35} height={15} rx={7} fill="#404040" stroke="#5a5a5a" strokeWidth={0.6} />
          <text x={1484} y={72.5} textAnchor="middle" fontSize={9} fill="#dadada">Reset</text>
          <rect x={1504} y={62} width={36} height={15} rx={7} fill="#404040" stroke="#5a5a5a" strokeWidth={0.6} />
          <text x={1522} y={72.5} textAnchor="middle" fontSize={9} fill="#dadada">Setup</text>
          <rect x={1545} y={64} width={12} height={11} rx={2} fill="#4a4a4a" />
          <rect x={1548} y={66} width={7} height={6} fill="#aaa" />
          <rect x={1478} y={80} width={82} height={21} fill="#181818" />
          <text x={1511} y={96} textAnchor="end" fontSize={12} fontWeight="bold" fill="#2ee02e">14572.00</text>
          <text x={1516} y={89} fontSize={7} fill="#e02020">-12.00</text>
          <text x={1516} y={97.5} fontSize={7} fill="#e02020">-0.08 %</text>
          <circle cx={1550} cy={91} r={2.5} fill="#2a6adc" />
          <rect x={1554} y={85} width={4} height={12} fill="#888" />
        </g>
        <rect x={1484.5} y={103} width={14} height={14} fill="#1a2230" stroke="#9aa4b4" strokeWidth={0.8} />
        <path d="M1487,113 h4 M1492,108 l3,6" stroke="#ddd" strokeWidth={1} />
        <TabStrip x={1525} top={100} bottom={933} first="Trade" firstRange={[102, 150]}
          ranges={[[155, 225], [229, 292], [296, 351], [355, 389], [396, 451], [455, 493], [497, 548]]} />

        {/* bottom bar of main window */}
        <rect x={1232} y={933} width={328} height={19} fill="#1e1e1e" />
        <rect x={1232} y={933} width={328} height={8} fill="#303030" />
        <rect x={1443} y={935} width={20} height={13} fill="#2f4c72" />
        <path d="M1495,938 L1500,942 L1495,946Z" fill="#777" />
        <rect x={1506} y={935} width={17} height={13} fill="#0c0c0c" stroke="#888" strokeWidth={0.6} />
        <path d="M1509,941.5 l3,-3 v6Z M1520,941.5 l-3,-3 v6Z" fill="#ddd" />
        <circle cx={1552} cy={941.5} r={5} fill="none" stroke="#ccc" strokeWidth={1.2} />
        <path d="M1545,941.5 h14 M1552,934.5 v14" stroke="#ccc" strokeWidth={1} />
        <rect x={1232} y={952} width={336} height={4} fill="#d3dce7" />
      </svg>
    </div>
  );
}
